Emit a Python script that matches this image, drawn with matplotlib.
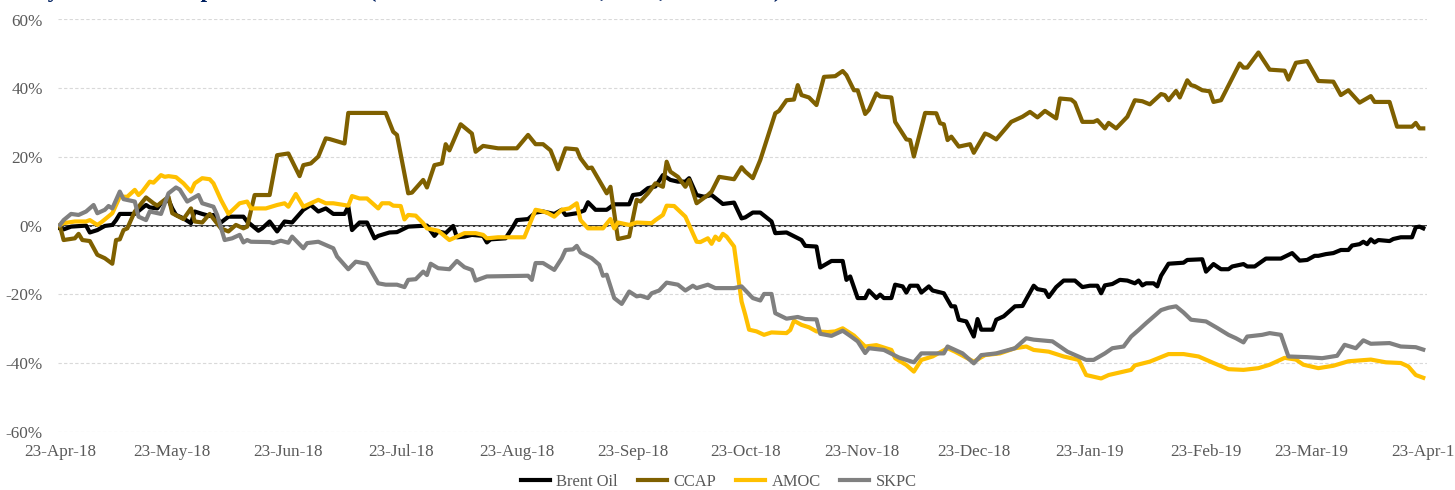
import numpy as np
import pandas as pd
import matplotlib.pyplot as plt
import matplotlib.dates as mdates

# days after 23-Apr-2018 and % change
brent_days = [0, 1, 3, 7, 8, 10, 12, 14, 15, 16, 20, 23, 24, 26, 27, 29, 30, 31, 33, 35, 36, 38, 40, 41, 43, 45,
              49, 50, 53, 54, 56, 58, 60, 62, 65, 67, 69, 71, 73, 76, 77, 78, 80, 82, 84, 85, 88, 90, 93, 98,
              100, 101, 103, 105, 106, 108, 110, 113, 114, 115, 119, 121, 122, 125, 127, 129, 132, 134, 135,
              138, 140, 141, 143, 146, 148, 152, 153, 155, 157, 159, 161, 163, 165, 167, 168, 170, 172, 174,
              177, 180, 182, 183, 185, 187, 190, 191, 194, 198, 199, 202, 203, 206, 209, 210, 211, 213, 215,
              216, 218, 219, 220, 222, 223, 225, 226, 227, 229, 230, 232, 233, 236, 238, 239, 240, 242, 244,
              245, 246, 249, 250, 252, 255, 257, 260, 261, 263, 264, 266, 268, 271, 273, 275, 277, 278, 279,
              281, 283, 285, 287, 288, 289, 290, 292, 293, 294, 296, 300, 301, 305, 306, 308, 310, 312, 313,
              316, 317, 319, 322, 326, 329, 331, 333, 335, 336, 338, 340, 342, 344, 345, 347, 348, 349, 350,
              351, 352, 355, 356, 358, 361, 362, 363, 364]
brent = [-0.8, -1.1, -0.3, 0.0, -2.0, -1.3, -0.1, 0.2, 1.6, 3.4, 3.4, 6.0, 5.3, 5.0, 6.5, 7.5, 5.0, 3.1, 2.1, 0.7,
         4.1, 3.4, 2.8, 3.1, 0.9, 2.6, 2.6, 1.2, -1.5, -0.8, 1.2, -1.7, 1.2, 0.9, 4.6, 6.0, 4.1, 5.0, 3.4, 3.4,
         5.5, -1.3, 0.9, 0.9, -3.7, -3.0, -2.0, -1.9, -0.3, 0.0, -3.0, -1.7, -2.2, -0.1, -3.4, -3.2, -2.7,
         -3.0, -4.9, -4.0, -3.7, -0.3, 1.6, 1.9, 3.8, 4.1, 3.4, 4.6, 3.1, 3.6, 4.4, 6.8, 4.6, 4.6, 6.2, 6.2,
         8.9, 9.2, 10.9, 11.4, 14.7, 13.3, 12.8, 12.8, 13.8, 8.9, 8.4, 8.9, 6.3, 6.7, 2.1, 2.4, 3.8, 3.8, 1.2,
         -2.2, -2.0, -4.2, -5.9, -6.1, -12.2, -10.3, -10.3, -15.8, -14.8, -21.1, -21.1, -18.9, -21.1, -20.1,
         -21.1, -21.1, -17.2, -17.7, -19.5, -17.5, -17.5, -19.5, -17.7, -18.9, -19.7, -23.5, -23.5, -27.4,
         -27.9, -32.3, -27.2, -30.3, -30.3, -27.4, -26.4, -23.5, -23.4, -17.5, -18.5, -18.9, -20.8, -17.9,
         -16.0, -16.0, -17.9, -17.5, -17.5, -19.7, -17.4, -17.0, -15.8, -16.0, -16.8, -16.0, -17.4, -16.8,
         -16.8, -17.7, -14.6, -11.1, -10.8, -10.0, -9.8, -13.4, -11.2, -12.7, -12.7, -11.9, -11.2, -11.9,
         -11.9, -9.6, -9.6, -8.0, -10.2, -10.0, -8.8, -8.8, -8.3, -8.0, -7.1, -7.1, -5.8, -5.4, -4.7, -5.4,
         -4.0, -4.9, -4.2, -4.5, -3.9, -3.4, -3.4, -0.5, -0.3, -0.8]

ccap_days = [0, 1, 4, 5, 6, 8, 10, 12, 14, 15, 16, 17, 18, 20, 23, 25, 26, 29, 30, 33, 35, 36, 38, 40, 43, 45,
             47, 49, 50, 52, 56, 58, 61, 64, 65, 67, 69, 71, 72, 76, 77, 87, 89, 90, 93, 94, 97, 98, 100, 102,
             103, 104, 107, 110, 111, 113, 117, 122, 125, 127, 129, 131, 133, 135, 138, 139, 141, 142, 146,
             147, 149, 152, 154, 155, 157, 159, 161, 162, 163, 165, 167, 168, 170, 173, 174, 176, 180, 182,
             183, 185, 187, 189, 191, 192, 194, 196, 197, 198, 200, 202, 204, 207, 209, 210, 212, 213, 215,
             216, 218, 219, 222, 223, 226, 227, 228, 231, 234, 235, 236, 237, 238, 240, 243, 244, 247, 248,
             250, 254, 255, 257, 259, 261, 263, 266, 267, 270, 271, 273, 276, 277, 279, 280, 282, 285, 287,
             289, 291, 294, 295, 296, 298, 299, 301, 302, 303, 305, 307, 308, 310, 315, 316, 317, 320, 321,
             323, 327, 328, 330, 333, 336, 340, 342, 344, 347, 350, 351, 355, 357, 361, 362, 363, 364]
ccap = [0.0, -4.2, -3.7, -2.4, -4.2, -4.5, -8.5, -9.5, -11.1, -4.2, -4.0, -1.3, -0.8, 4.1, 8.2, 6.5, 5.8, 8.4,
        3.6, 1.9, 5.0, 1.2, 0.9, 3.4, -0.8, -1.7, 0.2, -0.8, -0.3, 8.9, 8.9, 20.5, 21.0, 14.4, 17.6, 18.1,
        20.1, 25.4, 25.2, 23.9, 32.8, 32.8, 27.3, 26.4, 9.4, 9.6, 13.3, 11.1, 17.6, 18.1, 23.7, 21.9, 29.5,
        26.8, 21.5, 23.2, 22.5, 22.5, 26.4, 23.7, 23.7, 21.9, 16.4, 22.5, 22.2, 19.6, 16.7, 16.9, 9.4, 11.3,
        -3.9, -3.2, 7.5, 7.0, 9.4, 12.3, 11.3, 18.6, 15.7, 14.2, 11.3, 13.3, 6.5, 8.9, 9.9, 14.2, 13.5, 17.0,
        15.7, 13.8, 19.1, 25.9, 32.7, 33.4, 36.5, 36.7, 40.9, 38.0, 37.3, 35.1, 43.3, 43.5, 45.0, 43.8, 39.4,
        39.4, 32.5, 33.7, 38.5, 37.6, 37.3, 30.2, 25.1, 24.9, 20.1, 32.8, 32.7, 29.8, 29.5, 24.9, 25.9, 23.0,
        23.7, 21.2, 26.8, 26.4, 25.1, 30.2, 30.7, 31.7, 33.1, 31.5, 33.4, 31.2, 37.0, 36.7, 35.8, 30.2, 30.2,
        30.7, 28.3, 29.9, 28.3, 31.7, 36.5, 36.2, 35.3, 38.3, 38.0, 36.5, 39.2, 37.3, 42.3, 40.9, 40.6, 39.4,
        39.1, 36.0, 36.5, 47.2, 46.0, 46.0, 50.4, 48.7, 45.4, 45.1, 42.5, 47.4, 47.9, 42.1, 41.9, 38.0, 39.4,
        35.8, 37.7, 36.0, 36.0, 28.8, 28.8, 29.9, 28.3, 28.3]

amoc_days = [0, 1, 4, 7, 8, 10, 11, 14, 16, 18, 20, 21, 22, 24, 25, 27, 28, 29, 31, 33, 35, 36, 38, 40, 41, 43,
             45, 46, 48, 50, 51, 55, 58, 60, 61, 63, 65, 67, 69, 71, 73, 77, 78, 80, 82, 85, 86, 88, 89, 91,
             92, 93, 95, 97, 98, 101, 104, 106, 108, 111, 113, 114, 117, 124, 127, 128, 130, 132, 134, 136,
             138, 139, 141, 145, 147, 148, 149, 152, 154, 158, 159, 161, 162, 164, 167, 170, 171, 173, 174,
             175, 176, 177, 178, 180, 182, 183, 184, 186, 188, 190, 194, 195, 196, 198, 200, 202, 205, 207,
             209, 212, 215, 218, 222, 223, 226, 228, 230, 233, 237, 239, 244, 247, 251, 255, 258, 260, 264,
             268, 272, 274, 278, 280, 286, 287, 291, 296, 300, 304, 308, 312, 316, 320, 323, 327, 330, 332,
             336, 340, 344, 350, 354, 358, 360, 362, 364]
amoc = [0.2, 0.7, 1.2, 1.2, 1.6, 0.2, 0.9, 3.6, 8.4, 8.4, 10.4, 8.9, 9.9, 12.8, 12.5, 14.7, 14.2, 14.4, 14.1,
        12.3, 9.9, 12.3, 13.8, 13.5, 12.3, 7.5, 3.4, 4.4, 6.5, 7.0, 5.0, 5.0, 6.0, 6.5, 5.5, 9.2, 5.5, 6.5,
        7.5, 6.5, 6.5, 5.8, 8.6, 7.9, 7.9, 5.0, 6.5, 6.5, 5.8, 5.7, 1.8, 3.1, 2.9, 0.7, -0.8, -1.5, -4.2,
        -3.2, -2.2, -2.2, -2.7, -3.7, -3.4, -3.4, 4.6, 4.4, 3.8, 2.6, 4.6, 5.0, 6.5, 1.6, -0.8, -0.8, 1.9,
        -0.8, 0.9, 0.2, 0.9, 0.7, 1.6, 3.1, 5.8, 5.7, 2.6, -4.7, -4.8, -3.7, -5.3, -3.2, -4.2, -2.4, -3.2,
        -6.1, -22.1, -26.0, -30.3, -30.8, -31.8, -31.1, -31.3, -30.4, -27.7, -28.9, -29.6, -30.8, -31.0,
        -30.8, -29.9, -32.0, -35.2, -34.8, -36.2, -38.6, -40.6, -42.5, -39.1, -38.1, -35.7, -36.7, -39.6,
        -37.7, -37.2, -35.7, -35.2, -36.2, -36.7, -38.1, -39.1, -43.5, -44.5, -43.5, -42.0, -40.7, -39.6,
        -37.4, -37.4, -38.1, -40.0, -41.8, -42.0, -41.5, -40.5, -38.5, -39.0, -40.5, -41.5, -40.8, -39.5,
        -39.0, -39.8, -40.0, -41.0, -43.5, -44.3]

skpc_days = [0, 1, 3, 5, 7, 9, 10, 12, 13, 14, 16, 17, 20, 21, 23, 24, 27, 29, 31, 32, 34, 37, 38, 41, 42, 44,
             46, 48, 49, 50, 51, 56, 57, 59, 61, 62, 65, 66, 69, 73, 74, 77, 79, 82, 85, 87, 90, 92, 93, 95,
             97, 98, 99, 101, 104, 106, 108, 110, 111, 114, 125, 126, 127, 129, 132, 134, 135, 137, 138, 139,
             142, 144, 145, 146, 148, 150, 152, 154, 155, 157, 158, 160, 162, 165, 167, 169, 170, 173, 175,
             180, 182, 185, 187, 188, 190, 191, 194, 197, 199, 202, 203, 206, 209, 211, 213, 215, 216, 220,
             224, 228, 230, 236, 237, 241, 244, 246, 250, 255, 258, 260, 265, 269, 274, 276, 279, 281, 284,
             286, 288, 290, 294, 296, 298, 300, 302, 306, 309, 312, 314, 316, 317, 321, 323, 326, 328, 333,
             337, 341, 343, 346, 348, 350, 355, 358, 362, 364]
skpc = [0.2, 1.6, 3.4, 3.1, 4.1, 6.0, 3.6, 4.6, 5.7, 5.0, 9.9, 7.7, 7.0, 2.6, 1.6, 4.1, 3.4, 9.4, 11.1, 10.5,
        7.0, 8.9, 6.5, 5.5, 3.1, -4.2, -3.7, -2.7, -4.9, -4.2, -4.7, -4.8, -5.1, -4.4, -5.0, -3.2, -6.6,
        -5.1, -4.7, -6.6, -9.0, -12.7, -10.5, -11.1, -16.8, -17.2, -17.2, -17.9, -15.8, -15.6, -13.4, -14.4,
        -11.1, -12.4, -12.7, -10.3, -12.1, -12.9, -16.0, -14.8, -14.6, -15.8, -10.9, -10.9, -12.9, -9.5,
        -7.1, -6.9, -5.9, -7.8, -9.5, -11.4, -14.6, -14.3, -21.1, -22.8, -19.2, -20.6, -20.4, -21.1, -19.7,
        -18.9, -16.6, -17.2, -18.9, -17.5, -18.2, -17.2, -18.2, -18.2, -17.7, -21.1, -21.8, -19.9, -19.9,
        -25.5, -27.1, -26.6, -27.2, -27.3, -31.5, -32.1, -30.6, -32.1, -33.7, -37.1, -35.7, -36.2, -38.4,
        -39.8, -37.2, -37.2, -35.2, -37.2, -40.1, -37.7, -37.2, -35.7, -32.8, -33.2, -33.7, -36.7, -39.1,
        -39.1, -37.2, -35.7, -35.2, -32.3, -30.4, -28.4, -24.6, -23.9, -23.5, -25.3, -27.4, -27.9, -29.8,
        -31.8, -32.8, -34.0, -32.3, -31.8, -31.3, -31.8, -38.1, -38.3, -38.6, -37.9, -34.7, -35.7, -33.4,
        -34.4, -34.2, -35.2, -35.4, -36.1]

start = pd.Timestamp("2018-04-23")
def to_dates(d):
    return start + pd.to_timedelta(d, unit="D")

plt.rcParams['font.family'] = ['Liberation Serif', 'DejaVu Serif']

fig = plt.figure(figsize=(14.55, 4.9), dpi=100)
ax = fig.add_axes([58 / 1455, 1 - 431.7 / 490, (1427 - 58) / 1455, (431.7 - 19.5) / 490])

ax.axhline(0, color="black", lw=1.1, zorder=1)
ax.plot(to_dates(brent_days), brent, color="black", lw=3.0, label="Brent Oil", zorder=3)
ax.plot(to_dates(ccap_days), ccap, color="#7F6000", lw=3.0, label="CCAP", zorder=3)
ax.plot(to_dates(amoc_days), amoc, color="#FFC000", lw=3.0, label="AMOC", zorder=3)
ax.plot(to_dates(skpc_days), skpc, color="#808080", lw=3.0, label="SKPC", zorder=3)

ax.set_ylim(-60, 60)
ax.set_yticks(np.arange(-60, 61, 20))
ax.set_yticklabels([f"{v}%" for v in range(-60, 61, 20)])
ax.set_xlim(start - pd.Timedelta(days=0.5), pd.Timestamp("2019-04-23"))
ax.xaxis.set_major_locator(mdates.MonthLocator(bymonthday=23))
ax.xaxis.set_major_formatter(mdates.DateFormatter("%d-%b-%y"))
ax.grid(axis="y", color="#D9D9D9", ls=(0, (3, 2)), lw=0.8, zorder=0)
for s in ax.spines.values():
    s.set_visible(False)
ax.tick_params(axis="both", length=0, labelsize=12.3, colors="#595959")
ax.tick_params(axis="y", pad=11)
ax.tick_params(axis="x", pad=9)

fig.legend(loc="center", bbox_to_anchor=(0.494, 0.016), ncol=4, frameon=False,
           fontsize=11.9, handlelength=1.75, columnspacing=1.2, handletextpad=0.4,
           labelcolor="#595959")

# title sits mostly above the top edge, as in the source image
fig.text(0.013, 1 + 3.5 / 490, "Key stocks' share price movement (rebased to 100 in 2018, local, last 12 mo)",
         color="#002060", fontsize=17, fontweight="bold", va="baseline")

fig.savefig("out.png", dpi=100)
